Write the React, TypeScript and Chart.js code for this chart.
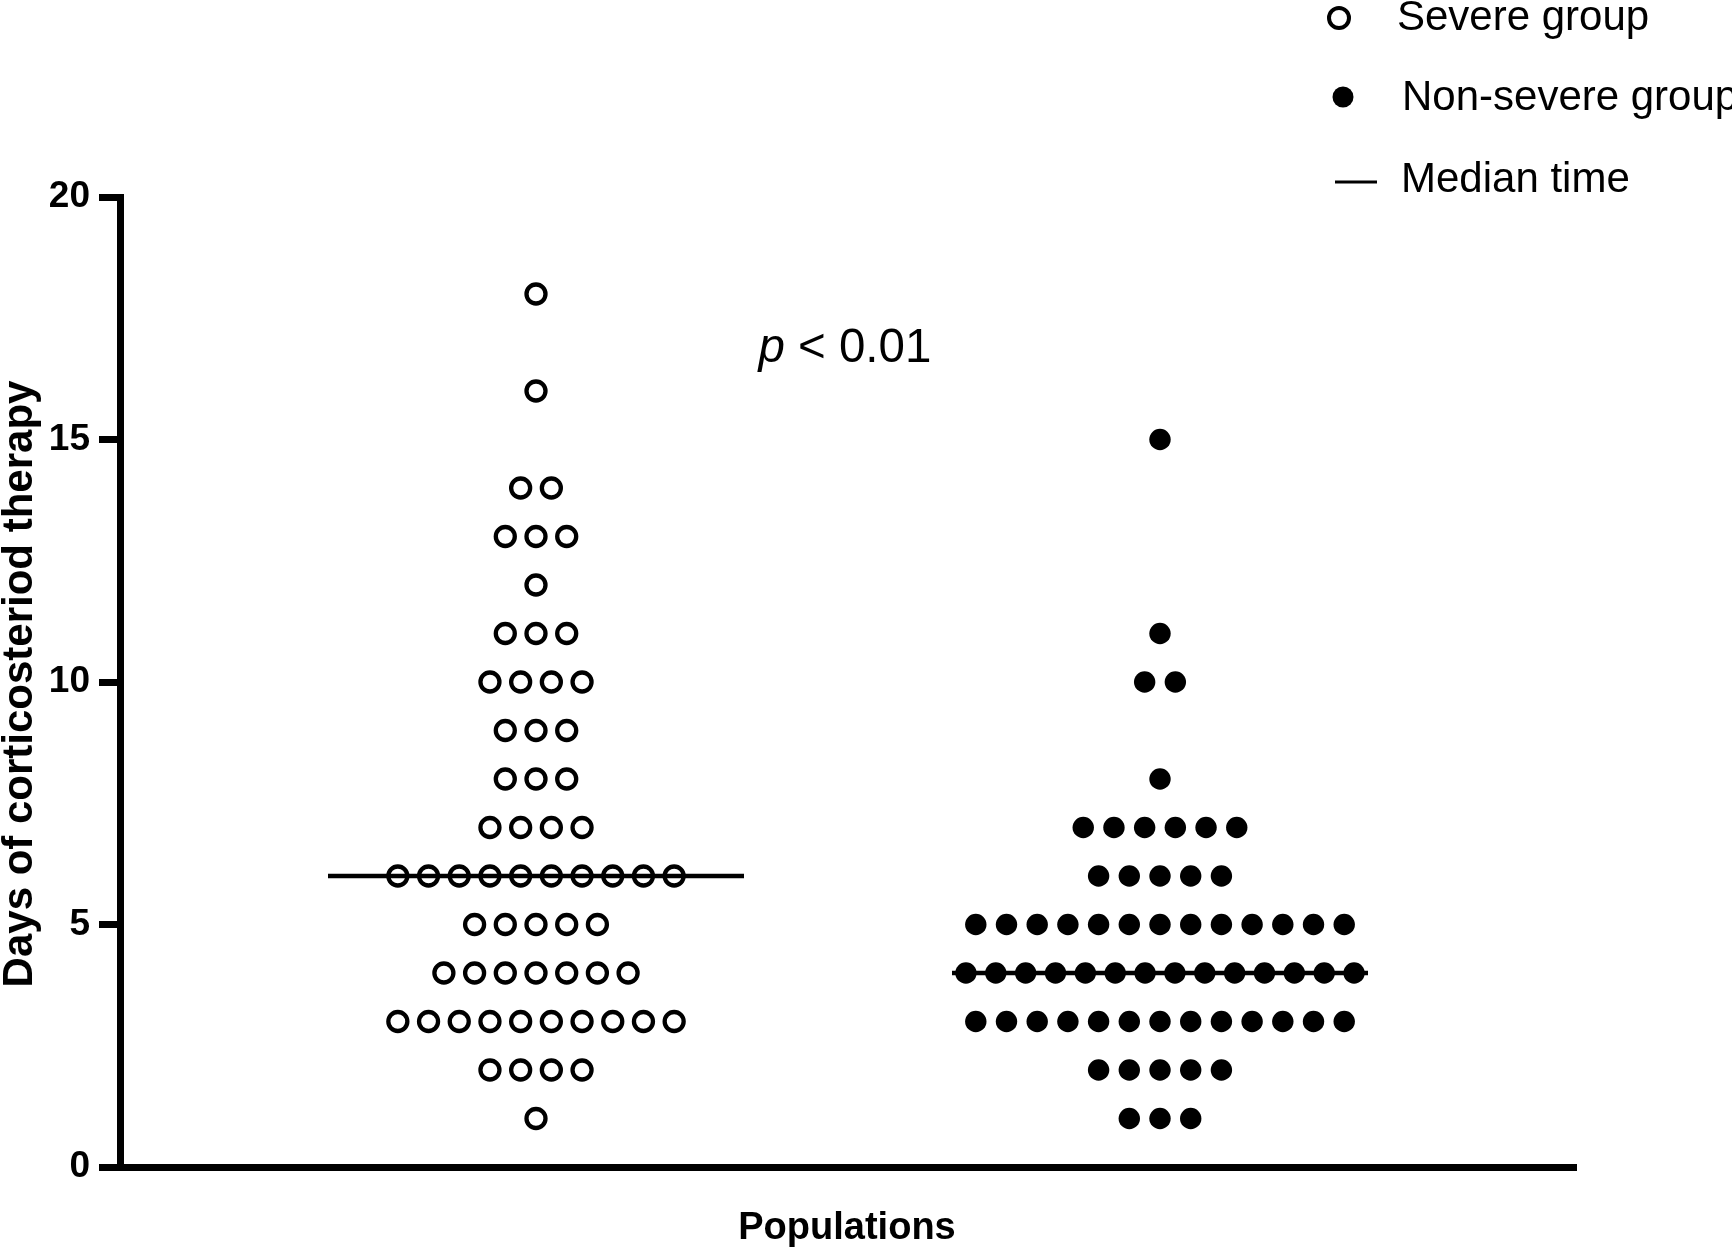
import { useEffect, useRef } from "react";
import { Chart, registerables } from "chart.js";

Chart.register(...registerables);

const FONT = "'Liberation Sans', Arial, Helvetica, sans-serif";

// values: day -> number of patients at that day
const severeDays = [18, 16, 14, 13, 12, 11, 10, 9, 8, 7, 6, 5, 4, 3, 2, 1];
const severeCounts = [1, 1, 2, 3, 1, 3, 4, 3, 3, 4, 10, 5, 7, 10, 4, 1];
const nonSevereDays = [15, 11, 10, 8, 7, 6, 5, 4, 3, 2, 1];
const nonSevereCounts = [1, 1, 2, 1, 6, 5, 13, 14, 13, 5, 3];

const groupNames = ["Severe group", "Non-severe group"];
const groupX = [1, 2];
const medianDays = [6, 4];
const medianLabel = "Median time";

const yTitle = "Days of corticosteriod therapy";
const xTitle = "Populations";
const yMin = 0;
const yMax = 20;
const yStep = 5;
const pValueText = ["p", " < 0.01"];
const pValuePos = { x: 1.495, y: 16.6 };

// beeswarm spreading of equal values (layout only)
const DOT_STEP = 0.0492;
const MAX_ROW_SPAN = 0.622;
const MEDIAN_HALF = 1 / 3;

function swarm(days: number[], counts: number[], center: number) {
  const pts: { x: number; y: number }[] = [];
  days.forEach((d, i) => {
    const n = counts[i];
    const step = n > 1 ? Math.min(DOT_STEP, MAX_ROW_SPAN / (n - 1)) : 0;
    for (let k = 0; k < n; k++) {
      pts.push({ x: center + (k - (n - 1) / 2) * step, y: d });
    }
  });
  return pts;
}

const overlayPlugin = {
  id: "overlay",
  afterDraw(chart: any) {
    const { ctx, chartArea, scales } = chart;
    ctx.save();
    ctx.fillStyle = "#000";
    ctx.strokeStyle = "#000";

    // y axis title
    ctx.save();
    ctx.font = `bold 42px ${FONT}`;
    ctx.translate(32, (chartArea.top + chartArea.bottom) / 2 + 2);
    ctx.rotate(-Math.PI / 2);
    ctx.textAlign = "center";
    ctx.textBaseline = "alphabetic";
    ctx.fillText(yTitle, 0, 0);
    ctx.restore();

    // x axis title
    ctx.font = `bold 38px ${FONT}`;
    ctx.textAlign = "center";
    ctx.textBaseline = "alphabetic";
    ctx.fillText(xTitle, (chartArea.left + chartArea.right) / 2 - 1, 1239);

    // p value
    const px = scales.x.getPixelForValue(pValuePos.x);
    const py = scales.y.getPixelForValue(pValuePos.y);
    ctx.textAlign = "left";
    ctx.font = `italic 47.5px ${FONT}`;
    const w1 = ctx.measureText(pValueText[0]).width;
    ctx.font = `47.5px ${FONT}`;
    const w2 = ctx.measureText(pValueText[1]).width;
    const sx = px - (w1 + w2) / 2;
    ctx.font = `italic 47.5px ${FONT}`;
    ctx.fillText(pValueText[0], sx, py);
    ctx.font = `47.5px ${FONT}`;
    ctx.fillText(pValueText[1], sx + w1, py);

    // legend
    ctx.font = `42px ${FONT}`;
    ctx.lineWidth = 4;
    ctx.fillStyle = "#fff";
    ctx.beginPath();
    ctx.arc(1339, 18, 10, 0, Math.PI * 2);
    ctx.fill();
    ctx.stroke();
    ctx.fillStyle = "#000";
    ctx.fillText(groupNames[0], 1397, 30);

    ctx.beginPath();
    ctx.arc(1343, 97, 10.5, 0, Math.PI * 2);
    ctx.fill();
    ctx.fillText(groupNames[1], 1402, 110);

    ctx.lineWidth = 3;
    ctx.beginPath();
    ctx.moveTo(1335, 182);
    ctx.lineTo(1377, 182);
    ctx.stroke();
    ctx.fillText(medianLabel, 1401, 192);

    ctx.restore();
  },
};

export default function App() {
  const canvasRef = useRef<HTMLCanvasElement>(null);
  const chartRef = useRef<Chart | null>(null);

  useEffect(() => {
    if (!canvasRef.current) return;
    if (chartRef.current) chartRef.current.destroy();

    const medianSets = medianDays.map((m, i) => ({
      type: "line" as const,
      label: `${medianLabel} ${groupNames[i]}`,
      data: [
        { x: groupX[i] - MEDIAN_HALF, y: m },
        { x: groupX[i] + MEDIAN_HALF, y: m },
      ],
      borderColor: "#000",
      borderWidth: 4.5,
      pointRadius: 0,
      showLine: true,
      fill: false,
      order: 0,
    }));

    chartRef.current = new Chart(canvasRef.current, {
      type: "scatter",
      data: {
        datasets: [
          ...medianSets,
          {
            label: groupNames[0],
            data: swarm(severeDays, severeCounts, groupX[0]),
            pointStyle: "circle",
            pointRadius: 9.5,
            pointBorderWidth: 4.3,
            pointBackgroundColor: "#fff",
            pointBorderColor: "#000",
            order: 1,
          },
          {
            label: groupNames[1],
            data: swarm(nonSevereDays, nonSevereCounts, groupX[1]),
            pointStyle: "circle",
            pointRadius: 10.7,
            pointBorderWidth: 0,
            pointBackgroundColor: "#000",
            pointBorderColor: "#000",
            order: 1,
          },
        ] as any,
      },
      options: {
        animation: false,
        responsive: false,
        layout: { padding: { top: 197, right: 156, left: 0, bottom: 0 } },
        plugins: {
          legend: { display: false },
          tooltip: { enabled: false },
        },
        scales: {
          x: {
            type: "linear",
            min: 1 / 3,
            max: 8 / 3,
            ticks: { display: false },
            grid: { display: false },
            border: { display: true, width: 7, color: "#000" },
            afterFit: (s: any) => {
              s.height = 81;
            },
          },
          y: {
            min: yMin,
            max: yMax,
            ticks: {
              stepSize: yStep,
              color: "#000",
              padding: 9,
              font: { family: FONT, size: 37, weight: "bold" },
            },
            grid: {
              display: true,
              drawOnChartArea: false,
              drawTicks: true,
              tickLength: 21,
              tickWidth: 7,
              tickColor: "#000",
            },
            border: { display: true, width: 7, color: "#000" },
            afterFit: (s: any) => {
              s.width = 120;
            },
          },
        },
      },
      plugins: [overlayPlugin],
    });

    return () => {
      if (chartRef.current) chartRef.current.destroy();
      chartRef.current = null;
    };
  }, []);

  return (
    <div style={{ position: "fixed", left: 0, top: 0, width: 1732, height: 1248, background: "#fff" }}>
      <canvas ref={canvasRef} width={1732} height={1248} style={{ display: "block" }} />
    </div>
  );
}
